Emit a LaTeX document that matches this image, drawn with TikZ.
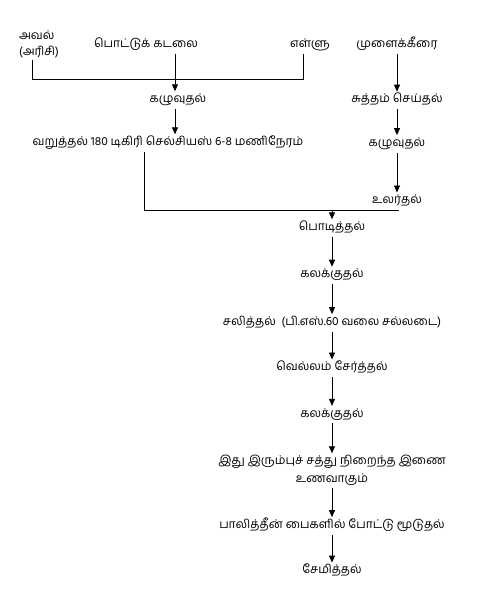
\documentclass[tikz,border=0pt]{standalone}
\usepackage{fontspec}
\setmainfont[Script=Tamil]{Hind Madurai}
\usetikzlibrary{positioning,arrows.meta}

\begin{document}
\begin{tikzpicture}[
  x = 1pt, y = -1pt,
  node distance = 30pt,
  proc/.style   = {inner sep=2pt, text height=9pt, text depth=4pt,
                   font=\fontsize{12}{14}\selectfont},
  procL/.style  = {inner sep=2pt, align=center, font=\fontsize{12}{18}\selectfont},
  link/.style   = {line width=0.8pt, draw=black},
  arrow/.style  = {link, -{Triangle[length=7pt,width=6pt]}}
]
\useasboundingbox (0,0) rectangle (481,599);

% sources
\node[procL, align=left, font=\fontsize{12}{16}\selectfont] (aval) at (39,44) {அவல்\\(அரிசி)};
\node[proc] (pottu) at (146,45) {பொட்டுக் கடலை};
\node[proc] (ellu)  at (310,45) {எள்ளு};
\node[proc] (keerai) at (397,45) {முளைக்கீரை};

% left branch
\node[proc] (kazhuL) at (178,100) {கழுவுதல்};
\node[proc] (varu)   at (168,143) {வறுத்தல் 180 டிகிரி செல்சியஸ் 6-8 மணிநேரம்};

% right branch
\node[proc, below=38pt of keerai] (sutham) {சுத்தம் செய்தல்};
\node[proc, below=26pt of sutham] (kazhuR) {கழுவுதல்};
\node[proc, below=40pt of kazhuR] (ular)   {உலர்தல்};

% main column
\node[proc] (podi) at (332,228) {பொடித்தல்};
\node[proc, below=of podi]     (kalakkuA) {கலக்குதல்};
\node[proc, below=of kalakkuA] (salithal) {சலித்தல்\ \ (பி.எஸ்.60 வலை சல்லடை)};
\node[proc, below=28pt of salithal] (vellam) {வெல்லம் சேர்த்தல்};
\node[proc, below=29pt of vellam]   (kalakkuB) {கலக்குதல்};
\node[procL, below=30pt of kalakkuB] (iron) {இது இரும்புச் சத்து நிறைந்த இணை\\உணவாகும்};
\node[proc, below=29pt of iron]     (pack) {பாலித்தீன் பைகளில் போட்டு மூடுதல்};
\node[proc, below=28pt of pack]     (store) {சேமித்தல்};

% joins
\coordinate (jA) at (32,79);
\coordinate (jB) at (303,79);
\coordinate (jC) at (144,210);
\coordinate (jD) at (398,210);

\draw[link] (aval.south -| jA) -- (jA) -- (jB) -- (ellu.south -| jB);
\draw[arrow] (pottu.south -| 175,0) -- (kazhuL.north -| 175,0);
\draw[arrow] (kazhuL.south -| 175,0) -- (varu.north -| 175,0);
\draw[link] (varu.south -| jC) -- (jC) -- (jD) -- (ular.south -| jD);

\draw[arrow] (keerai) -- (sutham);
\draw[arrow] (sutham) -- (kazhuR);
\draw[arrow] (kazhuR) -- (ular);

\draw[arrow] (podi |- jC) -- (podi);
\draw[arrow] (podi) -- (kalakkuA);
\draw[arrow] (kalakkuA) -- (salithal);
\draw[arrow] (salithal) -- (vellam);
\draw[arrow] (vellam) -- (kalakkuB);
\draw[arrow] (kalakkuB) -- (iron);
\draw[arrow] (iron) -- (pack);
\draw[arrow] (pack) -- (store);

\end{tikzpicture}
\end{document}
